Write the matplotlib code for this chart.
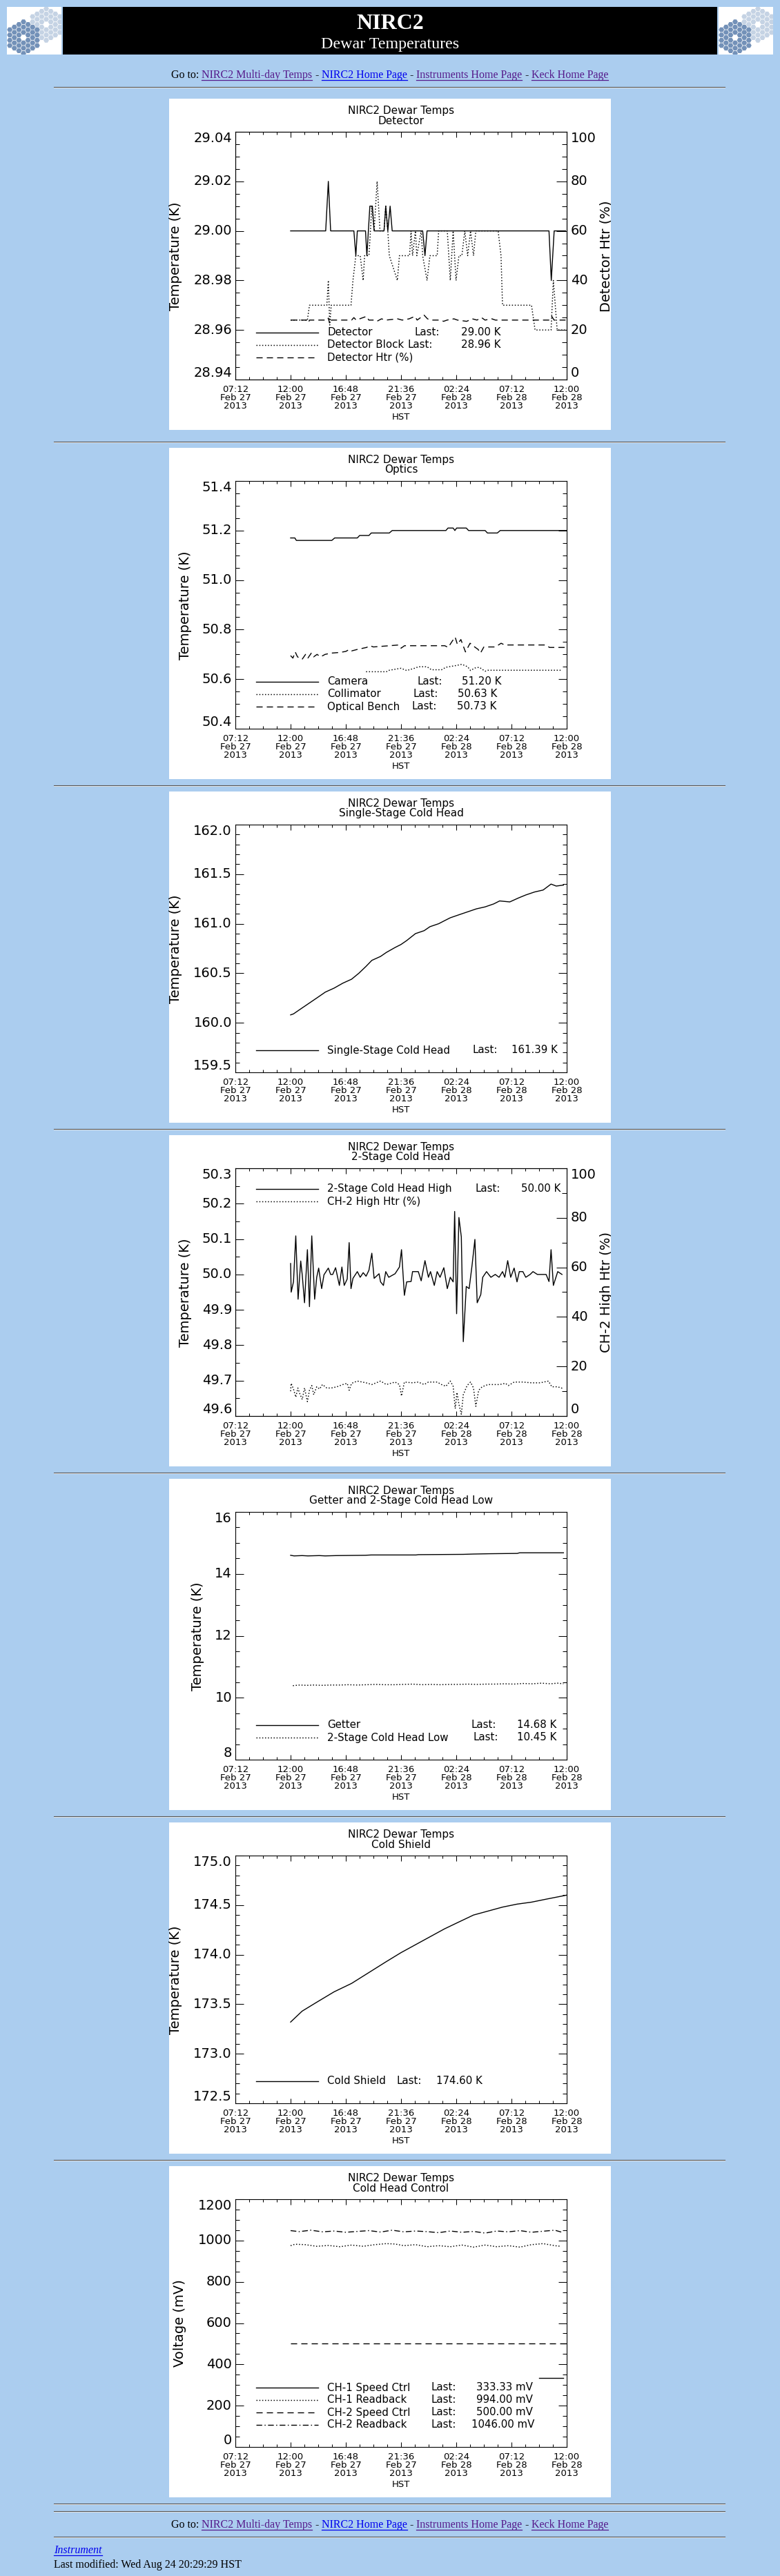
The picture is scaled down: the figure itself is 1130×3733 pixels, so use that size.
import numpy as np
import matplotlib
matplotlib.use("Agg")
import matplotlib.pyplot as plt
from matplotlib.lines import Line2D
from matplotlib.patches import Rectangle, RegularPolygon
from matplotlib.ticker import MultipleLocator, FixedLocator
from matplotlib.transforms import blended_transform_factory, Bbox, TransformedBbox

# ------------------------------------------------------------------ data
# time axis: hours since 00:00 Feb 27 2013 (HST)
XTICK_HOURS = [7.2, 12.0, 16.8, 21.6, 26.4, 31.2, 36.0]
XTICK_TIMES = ["07:12", "12:00", "16:48", "21:36", "02:24", "07:12", "12:00"]
XTICK_DATES = ["Feb 27", "Feb 27", "Feb 27", "Feb 27", "Feb 28", "Feb 28", "Feb 28"]
XTICK_YEARS = ["2013", "2013", "2013", "2013", "2013", "2013", "2013"]

HTR_TICKS = [0, 20, 40, 60, 80, 100]

# Panel 1 : Detector
P1_YTICKS = [28.94, 28.96, 28.98, 29.00, 29.02, 29.04]
P1_DETECTOR = [(12.0, 29.00), (15.05, 29.00), (15.28, 29.02), (15.48, 29.00), (17.5, 29.00),
               (17.67, 28.99), (17.8, 29.00), (18.51, 29.00), (18.63, 28.99), (18.89, 29.01),
               (19.11, 29.01), (19.26, 29.00), (20.12, 29.00), (20.27, 29.01), (20.45, 29.00),
               (20.65, 29.01), (20.83, 29.00), (23.48, 29.00), (23.68, 28.99), (23.86, 29.00),
               (34.46, 29.00), (34.66, 28.98), (34.91, 29.00), (35.9, 29.00)]
P1_BLOCK = [(12.0, 28.964), (13.46, 28.964), (13.64, 28.97), (15.15, 28.97), (15.28, 28.98),
            (15.4, 28.962), (15.53, 28.97), (17.25, 28.97), (17.42, 28.98), (17.67, 28.99),
            (18.05, 28.99), (18.31, 28.98), (18.43, 28.99), (18.81, 28.99), (18.94, 29.00),
            (19.06, 29.01), (19.26, 29.00), (19.52, 29.02), (19.77, 29.00), (20.12, 29.00),
            (20.27, 29.01), (20.45, 29.00), (20.58, 28.99), (21.28, 28.98), (21.46, 28.99),
            (22.34, 28.99), (22.47, 29.00), (22.6, 28.99), (22.85, 29.00), (22.97, 28.99),
            (23.35, 29.00), (23.48, 28.99), (23.86, 28.98), (24.11, 28.99), (24.74, 28.99),
            (24.87, 29.00), (25.62, 29.00), (25.88, 28.98), (26.13, 29.00), (26.38, 28.98),
            (26.63, 28.99), (26.89, 28.99), (27.14, 29.00), (27.39, 28.99), (27.64, 29.00),
            (27.9, 28.99), (28.1, 29.00), (30.04, 29.00), (30.29, 28.99), (30.42, 28.97),
            (32.94, 28.97), (33.25, 28.96), (34.64, 28.96), (34.84, 28.98), (35.17, 28.96),
            (35.85, 28.96)]
P1_HTR = [(12.0, 24), (13.46, 24), (13.55, 23), (13.64, 24), (15.2, 24), (15.28, 24.8),
          (15.4, 22.5), (15.53, 24), (17.3, 24), (17.5, 25), (17.7, 24), (18.6, 25.5),
          (18.8, 24), (19.3, 24), (19.5, 23.5), (19.9, 24.5), (20.3, 24), (21.3, 24.5),
          (21.7, 24), (22.3, 24.5), (22.8, 25.5), (23.0, 24), (23.6, 26), (23.9, 24.5),
          (24.2, 24), (25.0, 24), (25.3, 23.5), (25.6, 24), (26.2, 24.5), (26.5, 24),
          (27.3, 23.5), (27.8, 24.5), (28.2, 24), (28.6, 25), (28.9, 24), (29.5, 24.5),
          (29.8, 24), (34.5, 24), (34.7, 25.5), (34.9, 24), (35.9, 24)]

# Panel 2 : Optics
P2_YTICKS = [50.4, 50.6, 50.8, 51.0, 51.2, 51.4]
P2_CAMERA = [(12.0, 51.17), (12.37, 51.17), (12.5, 51.16), (15.58, 51.16), (15.83, 51.17),
             (17.8, 51.17), (18.0, 51.18), (18.81, 51.18), (19.01, 51.19), (20.58, 51.19),
             (20.83, 51.20), (25.5, 51.20), (25.68, 51.21), (26.13, 51.21), (26.28, 51.20),
             (26.43, 51.21), (27.27, 51.21), (27.47, 51.20), (28.91, 51.20), (29.11, 51.19),
             (29.97, 51.19), (30.22, 51.20), (35.97, 51.20)]
P2_COLLIMATOR = [(18.56, 50.63), (20.32, 50.63), (20.58, 50.636), (21.59, 50.644), (22.09, 50.635),
                 (22.85, 50.645), (23.1, 50.65), (23.86, 50.65), (24.24, 50.638), (25.12, 50.638),
                 (25.5, 50.648), (26.38, 50.655), (26.89, 50.66), (27.39, 50.65), (27.64, 50.635),
                 (28.02, 50.645), (28.4, 50.648), (28.91, 50.632), (29.16, 50.636), (35.47, 50.636)]
P2_BENCH = [(12.0, 50.695), (12.2, 50.685), (12.4, 50.71), (12.6, 50.69), (13.0, 50.68),
            (13.3, 50.70), (13.5, 50.685), (13.8, 50.705), (14.0, 50.69), (14.3, 50.70),
            (14.6, 50.69), (15.0, 50.70), (15.5, 50.705), (16.3, 50.708), (16.8, 50.712),
            (17.1, 50.72), (17.3, 50.714), (17.8, 50.72), (18.6, 50.728), (18.9, 50.735),
            (19.2, 50.73), (20.6, 50.735), (21.4, 50.738), (21.6, 50.725), (21.9, 50.735),
            (25.4, 50.735), (25.7, 50.728), (26.0, 50.75), (26.3, 50.77), (26.5, 50.74),
            (26.8, 50.76), (27.2, 50.71), (27.6, 50.745), (28.0, 50.73), (28.3, 50.72),
            (28.5, 50.705), (28.8, 50.73), (29.8, 50.73), (30.3, 50.745), (30.6, 50.738),
            (34.2, 50.738), (34.5, 50.728), (35.97, 50.728)]

# Panel 3 : Single-Stage Cold Head
P3_YTICKS = [159.5, 160.0, 160.5, 161.0, 161.5, 162.0]
P3_SINGLE = [(12.0, 160.08), (12.25, 160.09), (12.75, 160.13), (13.51, 160.19), (14.27, 160.25),
             (15.02, 160.31), (15.78, 160.35), (16.54, 160.40), (17.3, 160.44), (17.93, 160.50),
             (18.56, 160.57), (19.06, 160.63), (19.82, 160.67), (20.32, 160.71), (21.08, 160.76),
             (21.59, 160.79), (22.09, 160.83), (22.85, 160.90), (23.61, 160.93), (24.11, 160.97),
             (24.87, 161.00), (25.37, 161.03), (25.88, 161.06), (26.63, 161.09), (27.39, 161.12),
             (28.15, 161.15), (28.91, 161.17), (29.66, 161.20), (30.17, 161.23), (31.05, 161.22),
             (31.81, 161.26), (32.44, 161.29), (33.2, 161.32), (33.95, 161.34), (34.64, 161.40),
             (35.09, 161.38), (35.72, 161.39)]

# Panel 4 : 2-Stage Cold Head
P4_YTICKS = [49.6, 49.7, 49.8, 49.9, 50.0, 50.1, 50.2, 50.3]
P4_HIGH = [(12.0, 50.031), (12.05, 49.950), (12.25, 49.979), (12.45, 50.109), (12.65, 49.930),
           (12.88, 50.038), (13.01, 49.999), (13.21, 49.920), (13.46, 50.070), (13.64, 49.909),
           (13.84, 50.109), (14.09, 49.930), (14.27, 49.992), (14.44, 50.018), (14.7, 49.960),
           (14.9, 49.999), (15.28, 50.018), (15.48, 50.0), (15.66, 50.0), (15.91, 50.019),
           (16.24, 49.969), (16.46, 50.021), (16.66, 49.969), (16.92, 49.987), (17.09, 50.090),
           (17.25, 49.960), (17.42, 49.989), (17.8, 50.008), (18.05, 49.992), (18.31, 50.005),
           (18.56, 49.995), (18.81, 50.012), (19.06, 50.060), (19.26, 49.989), (19.69, 50.002),
           (19.82, 49.979), (20.07, 49.969), (20.27, 50.008), (20.53, 49.992), (21.08, 50.002),
           (21.46, 50.021), (21.64, 50.070), (21.89, 49.941), (22.09, 49.979), (22.47, 49.980),
           (22.6, 50.008), (23.1, 50.008), (23.35, 49.982), (23.68, 50.039), (23.98, 49.992),
           (24.16, 50.008), (24.49, 49.969), (24.74, 50.008), (24.99, 49.992), (25.32, 50.019),
           (25.62, 49.960), (25.88, 49.992), (26.13, 49.979), (26.26, 50.178), (26.43, 49.889),
           (26.63, 50.161), (26.84, 50.106), (27.01, 49.810), (27.27, 49.966), (27.52, 49.960),
           (27.77, 50.025), (28.02, 50.099), (28.22, 49.920), (28.53, 49.943), (28.7, 49.992),
           (29.03, 50.008), (29.41, 49.992), (29.79, 50.0), (30.12, 49.992), (30.42, 50.008),
           (30.62, 49.992), (30.87, 50.039), (31.13, 49.992), (31.43, 50.018), (31.68, 49.979),
           (31.88, 50.008), (32.19, 50.008), (32.44, 49.992), (32.82, 50.0), (33.07, 50.008),
           (33.45, 50.0), (34.21, 50.0), (34.46, 49.980), (34.64, 50.070), (34.84, 49.969),
           (35.22, 50.008), (35.59, 50.0)]
P4_HTR = [(12.0, 10.0), (12.05, 13.2), (12.25, 10.9), (12.45, 7.6), (12.63, 11.3), (12.8, 9.0),
          (13.01, 6.7), (13.21, 11.3), (13.46, 5.8), (13.64, 10.4), (13.84, 12.3), (14.01, 8.6),
          (14.27, 11.8), (14.52, 10.9), (14.77, 12.7), (15.15, 11.3), (15.53, 11.3), (16.03, 11.8),
          (16.54, 12.7), (16.92, 13.2), (17.09, 10.4), (17.3, 13.2), (17.8, 14.1), (18.56, 13.4),
          (19.06, 12.7), (19.82, 14.1), (20.32, 12.7), (21.08, 13.7), (21.46, 12.7), (21.64, 8.1),
          (21.89, 13.7), (22.6, 13.4), (23.1, 13.7), (23.61, 12.7), (23.98, 13.7), (24.74, 13.7),
          (25.12, 12.7), (25.5, 12.0), (25.88, 14.1), (26.13, 12.0), (26.31, 3.0), (26.46, 9.5),
          (26.63, 4.8), (26.84, 0.7), (27.01, 8.6), (27.34, 12.3), (27.64, 13.7), (27.9, 11.3),
          (28.1, 3.9), (28.35, 10.4), (28.65, 11.8), (29.16, 12.7), (29.66, 12.7), (30.17, 12.7),
          (30.67, 13.2), (30.93, 12.3), (31.43, 13.7), (32.19, 13.7), (32.94, 13.4), (33.7, 13.4),
          (34.41, 14.1), (34.71, 11.8), (35.09, 11.8), (35.47, 11.5), (35.72, 10.9)]

# Panel 5 : Getter and 2-Stage Cold Head Low
P5_YTICKS = [8, 10, 12, 14, 16]
P5_GETTER = [(12.0, 14.60), (12.3, 14.58), (13.0, 14.59), (13.5, 14.58), (14.5, 14.59),
             (15.0, 14.58), (16.0, 14.59), (18.5, 14.60), (19.0, 14.61), (22.9, 14.61),
             (23.1, 14.62), (27.0, 14.63), (27.9, 14.64), (29.3, 14.65), (31.7, 14.66),
             (31.9, 14.68), (35.72, 14.68)]
P5_LOW = [(12.2, 10.39), (12.8, 10.41), (13.4, 10.40), (14.0, 10.41), (14.7, 10.40), (15.5, 10.41),
          (16.3, 10.41), (17.0, 10.42), (17.8, 10.41), (18.6, 10.42), (19.4, 10.43), (20.2, 10.42),
          (21.0, 10.42), (21.8, 10.43), (22.6, 10.44), (23.4, 10.42), (24.2, 10.43), (25.0, 10.42),
          (25.8, 10.43), (26.6, 10.43), (27.4, 10.44), (28.2, 10.43), (29.0, 10.44), (29.8, 10.44),
          (30.6, 10.45), (31.4, 10.44), (32.2, 10.46), (33.0, 10.45), (33.8, 10.47), (34.6, 10.45),
          (35.2, 10.47), (35.72, 10.45)]

# Panel 6 : Cold Shield
P6_YTICKS = [172.5, 173.0, 173.5, 174.0, 174.5, 175.0]
P6_SHIELD = [(12.0, 173.32), (13.0, 173.43), (14.27, 173.52), (15.78, 173.625), (17.3, 173.71),
             (18.81, 173.82), (20.32, 173.93), (21.59, 174.02), (22.85, 174.10), (24.11, 174.18),
             (25.37, 174.26), (26.63, 174.33), (27.9, 174.40), (29.16, 174.44), (30.42, 174.48),
             (31.68, 174.51), (32.94, 174.53), (34.21, 174.56), (35.97, 174.60)]

# Panel 7 : Cold Head Control
P7_YTICKS = [0, 200, 400, 600, 800, 1000, 1200]
P7_CH1_SPEED = [(33.58, 333.33), (35.72, 333.33)]
P7_CH1_READ = [(12.0, 975), (12.37, 982), (13.26, 980), (14.27, 972), (15.28, 976), (16.29, 970),
               (17.3, 978), (18.31, 972), (19.32, 980), (20.32, 985), (21.08, 983), (21.84, 975),
               (22.85, 980), (23.86, 970), (24.87, 975), (25.88, 970), (26.89, 978), (27.9, 968),
               (28.91, 978), (29.92, 970), (30.93, 975), (31.93, 968), (32.94, 980), (33.95, 985),
               (34.96, 975), (35.47, 972)]
P7_CH2_SPEED = [(12.0, 500), (35.97, 500)]
P7_CH2_READ = [(12.0, 1048), (12.75, 1043), (13.76, 1050), (14.77, 1042), (15.78, 1046), (16.79, 1040),
               (17.8, 1044), (18.81, 1048), (19.82, 1041), (20.83, 1050), (21.84, 1042), (22.85, 1046),
               (23.86, 1043), (24.87, 1038), (25.88, 1046), (26.89, 1040), (27.9, 1044), (28.91, 1036),
               (29.92, 1046), (30.93, 1042), (31.93, 1048), (32.94, 1040), (33.95, 1045), (34.96, 1050),
               (35.59, 1040)]

# ------------------------------------------------------------------ layout
W, H = 1130, 3733
BG = "#abcdef"
PURPLE = "#551a8b"
BLUE = "#0000ee"
IDL_FONT = ["DejaVu Sans"]
HTML_FONT = ["Liberation Serif", "DejaVu Serif"]

plt.rcParams["lines.scale_dashes"] = False
plt.rcParams["font.family"] = IDL_FONT

STY = {
    "solid": dict(linestyle="-", linewidth=1.0),
    "dot": dict(linestyle=(0, (1.1, 1.9)), linewidth=1.05),
    "dash": dict(linestyle=(0, (6.5, 4.3)), linewidth=1.0),
    "dashdot": dict(linestyle=(0, (6.0, 2.5, 1.1, 2.5)), linewidth=1.0),
}

fig = plt.figure(figsize=(W / 100, H / 100), dpi=100, facecolor=BG)


def fx(x):
    return x / W


def fy(y):
    return 1 - y / H


def T(x, y, s, **kw):
    return fig.text(fx(x), fy(y), s, **kw)


def hline(x0, x1, y, color, lw, z=2):
    fig.add_artist(Line2D([fx(x0), fx(x1)], [fy(y), fy(y)], color=color, lw=lw,
                          transform=fig.transFigure, zorder=z))


def unzip(pairs):
    return [p[0] for p in pairs], [p[1] for p in pairs]


PANEL_X0, PANEL_W, PANEL_H = 245, 640, 480
AX_X0, AX_W, AX_TOP, AX_BOT = 341, 480, 48, 407


def panel(ptop, subtitle, yticks, yfmt, yminor, ylabel, ylabel_x, series, legend,
          legend_y, right_label=None, right_minor=None):
    fig.add_artist(Rectangle((fx(PANEL_X0), fy(ptop + PANEL_H)), PANEL_W / W, PANEL_H / H,
                             transform=fig.transFigure, facecolor="white",
                             edgecolor="none", zorder=-5))
    ax = fig.add_axes([fx(AX_X0), fy(ptop + AX_BOT), AX_W / W, (AX_BOT - AX_TOP) / H])
    ax.set_facecolor("white")
    ax.set_xlim(XTICK_HOURS[0], XTICK_HOURS[-1])
    ax.set_ylim(yticks[0], yticks[-1])
    ax.xaxis.set_major_locator(FixedLocator(XTICK_HOURS))
    ax.xaxis.set_minor_locator(MultipleLocator(1.2))
    ax.yaxis.set_major_locator(FixedLocator(yticks))
    ax.yaxis.set_minor_locator(MultipleLocator(yminor))
    ax.tick_params(which="both", direction="in", top=True, right=right_label is None,
                   labelbottom=False, labelleft=False, width=0.75, color="black")
    ax.tick_params(axis="x", which="major", length=5.4)
    ax.tick_params(axis="x", which="minor", length=3.2)
    ax.tick_params(axis="y", which="major", length=8.6)
    ax.tick_params(axis="y", which="minor", length=4.3)
    for sp in ax.spines.values():
        sp.set_linewidth(0.8)
        sp.set_color("black")

    tw = None
    if right_label is not None:
        tw = ax.twinx()
        tw.set_ylim(HTR_TICKS[0], HTR_TICKS[-1])
        tw.yaxis.set_major_locator(FixedLocator(HTR_TICKS))
        tw.yaxis.set_minor_locator(MultipleLocator(right_minor))
        tw.tick_params(which="both", direction="in", labelright=False, width=0.75)
        tw.tick_params(which="major", length=10.8)
        tw.tick_params(which="minor", length=5.0)
        for sp in tw.spines.values():
            sp.set_linewidth(0.8)

    for pairs, style, side in series:
        t, v = unzip(pairs)
        target = tw if side == "right" else ax
        target.plot(t, v, color="black", **STY[style])

    # y tick labels (IDL keeps first/last label inside the box)
    ltr = blended_transform_factory(fig.transFigure, ax.transData)
    n = len(yticks)
    for i, v in enumerate(yticks):
        va = "bottom" if i == 0 else ("top" if i == n - 1 else "center")
        fig.text(fx(336), v, yfmt.format(v), transform=ltr, ha="right", va=va, fontsize=14)
    if tw is not None:
        rtr = blended_transform_factory(fig.transFigure, tw.transData)
        n = len(HTR_TICKS)
        for i, v in enumerate(HTR_TICKS):
            va = "bottom" if i == 0 else ("top" if i == n - 1 else "center")
            fig.text(fx(827), v, str(v), transform=rtr, ha="left", va=va, fontsize=14)
        rl = T(878, ptop + 228, right_label, rotation=90, ha="center", va="center", fontsize=14)
        rl.set_clip_box(TransformedBbox(
            Bbox.from_extents(fx(PANEL_X0), fy(ptop + PANEL_H), fx(PANEL_X0 + PANEL_W), fy(ptop)),
            fig.transFigure))
        rl.set_clip_on(True)

    # x tick labels
    btr = blended_transform_factory(ax.transData, fig.transFigure)
    for h, a, b, c in zip(XTICK_HOURS, XTICK_TIMES, XTICK_DATES, XTICK_YEARS):
        for k, s in enumerate((a, b, c)):
            fig.text(h, fy(ptop + 421 + 12 * k), s, transform=btr, ha="center",
                     va="center", fontsize=9.5)
    T(581, ptop + 461, "HST", ha="center", va="center", fontsize=9.5)

    # titles and y label
    T(581, ptop + 18, "NIRC2 Dewar Temps", ha="center", va="center", fontsize=11)
    T(581, ptop + 32, subtitle, ha="center", va="center", fontsize=11)
    T(ylabel_x, ptop + 228, ylabel, rotation=90, ha="center", va="center", fontsize=14)

    # legend
    for (style, name, lx, val, vx), ry in zip(legend, legend_y):
        y = ptop + ry
        fig.add_artist(Line2D([fx(371), fx(461)], [fy(y), fy(y)], color="black",
                              transform=fig.transFigure, **STY[style]))
        T(474, y, name, ha="left", va="center", fontsize=10.8)
        if lx is not None:
            T(lx, y, "Last:", ha="left", va="center", fontsize=10.8)
            T(vx, y, val, ha="right", va="center", fontsize=10.8)


PANEL_TOPS = [143, 649, 1147, 1645, 2143, 2641, 3139]
BOTTOM_ROWS = {1: [375], 2: [357, 375], 3: [339, 357, 375], 4: [321, 339, 357, 375]}

panel(PANEL_TOPS[0], "Detector", P1_YTICKS, "{:.2f}", 0.005, "Temperature (K)", 255,
      [(P1_DETECTOR, "solid", "left"), (P1_BLOCK, "dot", "left"), (P1_HTR, "dash", "right")],
      [("solid", "Detector", 601, "29.00 K", 725),
       ("dot", "Detector Block", 590, "28.96 K", 725),
       ("dash", "Detector Htr (%)", None, None, None)],
      BOTTOM_ROWS[3], right_label="Detector Htr (%)", right_minor=5)

panel(PANEL_TOPS[1], "Optics", P2_YTICKS, "{:.1f}", 0.05, "Temperature (K)", 269,
      [(P2_CAMERA, "solid", "left"), (P2_COLLIMATOR, "dot", "left"), (P2_BENCH, "dash", "left")],
      [("solid", "Camera", 604, "51.20 K", 726),
       ("dot", "Collimator", 598, "50.63 K", 720),
       ("dash", "Optical Bench", 596, "50.73 K", 719)],
      BOTTOM_ROWS[3])

panel(PANEL_TOPS[2], "Single-Stage Cold Head", P3_YTICKS, "{:.1f}", 0.1, "Temperature (K)", 255,
      [(P3_SINGLE, "solid", "left")],
      [("solid", "Single-Stage Cold Head", 684, "161.39 K", 808)],
      BOTTOM_ROWS[1])

panel(PANEL_TOPS[3], "2-Stage Cold Head", P4_YTICKS, "{:.1f}", 0.05, "Temperature (K)", 269,
      [(P4_HIGH, "solid", "left"), (P4_HTR, "dot", "right")],
      [("solid", "2-Stage Cold Head High", 688, "50.00 K", 812),
       ("dot", "CH-2 High Htr (%)", None, None, None)],
      [78, 96], right_label="CH-2 High Htr (%)", right_minor=10)

panel(PANEL_TOPS[4], "Getter and 2-Stage Cold Head Low", P5_YTICKS, "{:d}", 0.5,
      "Temperature (K)", 286,
      [(P5_GETTER, "solid", "left"), (P5_LOW, "dot", "left")],
      [("solid", "Getter", 683, "14.68 K", 806),
       ("dot", "2-Stage Cold Head Low", 685, "10.45 K", 806)],
      BOTTOM_ROWS[2])

panel(PANEL_TOPS[5], "Cold Shield", P6_YTICKS, "{:.1f}", 0.1, "Temperature (K)", 255,
      [(P6_SHIELD, "solid", "left")],
      [("solid", "Cold Shield", 575, "174.60 K", 699)],
      BOTTOM_ROWS[1])

panel(PANEL_TOPS[6], "Cold Head Control", P7_YTICKS, "{:d}", 50, "Voltage (mV)", 261,
      [(P7_CH1_SPEED, "solid", "left"), (P7_CH1_READ, "dot", "left"),
       (P7_CH2_SPEED, "dash", "left"), (P7_CH2_READ, "dashdot", "left")],
      [("solid", "CH-1 Speed Ctrl", 624, "333.33 mV", 772),
       ("dot", "CH-1 Readback", 624, "994.00 mV", 772),
       ("dash", "CH-2 Speed Ctrl", 624, "500.00 mV", 772),
       ("dashdot", "CH-2 Readback", 624, "1046.00 mV", 774)],
      BOTTOM_ROWS[4])

# ------------------------------------------------------------------ html page chrome
# banner
fig.add_artist(Rectangle((fx(91), fy(79)), (1039 - 91) / W, 69 / H, transform=fig.transFigure,
                         facecolor="black", edgecolor="none", zorder=-5))
T(565, 42, "NIRC2", color="white", fontsize=23, fontweight="bold", family=HTML_FONT,
  ha="center", va="baseline")
T(565, 70, "Dewar Temperatures", color="white", fontsize=17.3, family=HTML_FONT,
  ha="center", va="baseline")

# keck mirror logos
DARK, LIGHT = "#7391b8", "#c5d3e4"


def logo(x0, y0, w=79, h=69, s=4.4):
    lax = fig.add_axes([fx(x0), fy(y0 + h), w / W, h / H])
    lax.set_xlim(0, w)
    lax.set_ylim(h, 0)
    lax.set_facecolor("white")
    lax.set_xticks([])
    lax.set_yticks([])
    for sp in lax.spines.values():
        sp.set_visible(False)
    for cx, cy, col in [(57, 25.5, LIGHT), (24, 44.5, DARK)]:
        for q in range(-3, 4):
            for r in range(-3, 4):
                d = max(abs(q), abs(r), abs(q + r))
                if d == 0 or d > 3:
                    continue
                px = cx + 1.5 * s * q
                py = cy + np.sqrt(3) * s * (r + q / 2)
                lax.add_patch(RegularPolygon((px, py), 6, radius=s * 0.9,
                                             orientation=np.pi / 6, facecolor=col,
                                             edgecolor="none"))


logo(10, 10)
logo(1041, 10)

# horizontal rules
HR_Y = [126, 640, 1138, 1636, 2134, 2632, 3130, 3628, 3639, 3676]
for y in HR_Y:
    hline(78, 1050, y, "#555555", 0.8)
    hline(78, 1050, y + 1.3, "#e2e2e2", 0.7)

renderer = fig.canvas.get_renderer()


def width_of(s, **kw):
    t = fig.text(0, 0, s, **kw)
    w = t.get_window_extent(renderer).width
    t.remove()
    return w


NAV = [("Go to:", "black", False), ("NIRC2 Multi-day Temps", PURPLE, True), ("-", "black", False),
       ("NIRC2 Home Page", BLUE, True), ("-", "black", False),
       ("Instruments Home Page", PURPLE, True), ("-", "black", False),
       ("Keck Home Page", PURPLE, True)]
NAV_FS = 11.5


def nav_row(baseline):
    kw = dict(fontsize=NAV_FS, family=HTML_FONT)
    sp = width_of("a a", **kw) - width_of("aa", **kw)
    ws = [width_of(s, **kw) for s, _, _ in NAV]
    total = sum(ws) + sp * (len(NAV) - 1)
    x = 564.5 - total / 2
    for (s, col, ul), w in zip(NAV, ws):
        T(x, baseline, s, color=col, ha="left", va="baseline", **kw)
        if ul:
            hline(x, x + w, baseline + 2.5, col, 0.9)
        x += w + sp


nav_row(113)
nav_row(3663)

T(78, 3700, "Instrument", color=BLUE, fontsize=NAV_FS, family=HTML_FONT, style="italic",
  ha="left", va="baseline")
iw = width_of("Instrument", fontsize=NAV_FS, family=HTML_FONT, style="italic")
hline(78, 78 + iw, 3702.5, BLUE, 0.9)
T(78, 3721, "Last modified: Wed Aug 24 20:29:29 HST", color="black", fontsize=NAV_FS,
  family=HTML_FONT, ha="left", va="baseline")

fig.savefig("out.png", dpi=100, facecolor=BG)
